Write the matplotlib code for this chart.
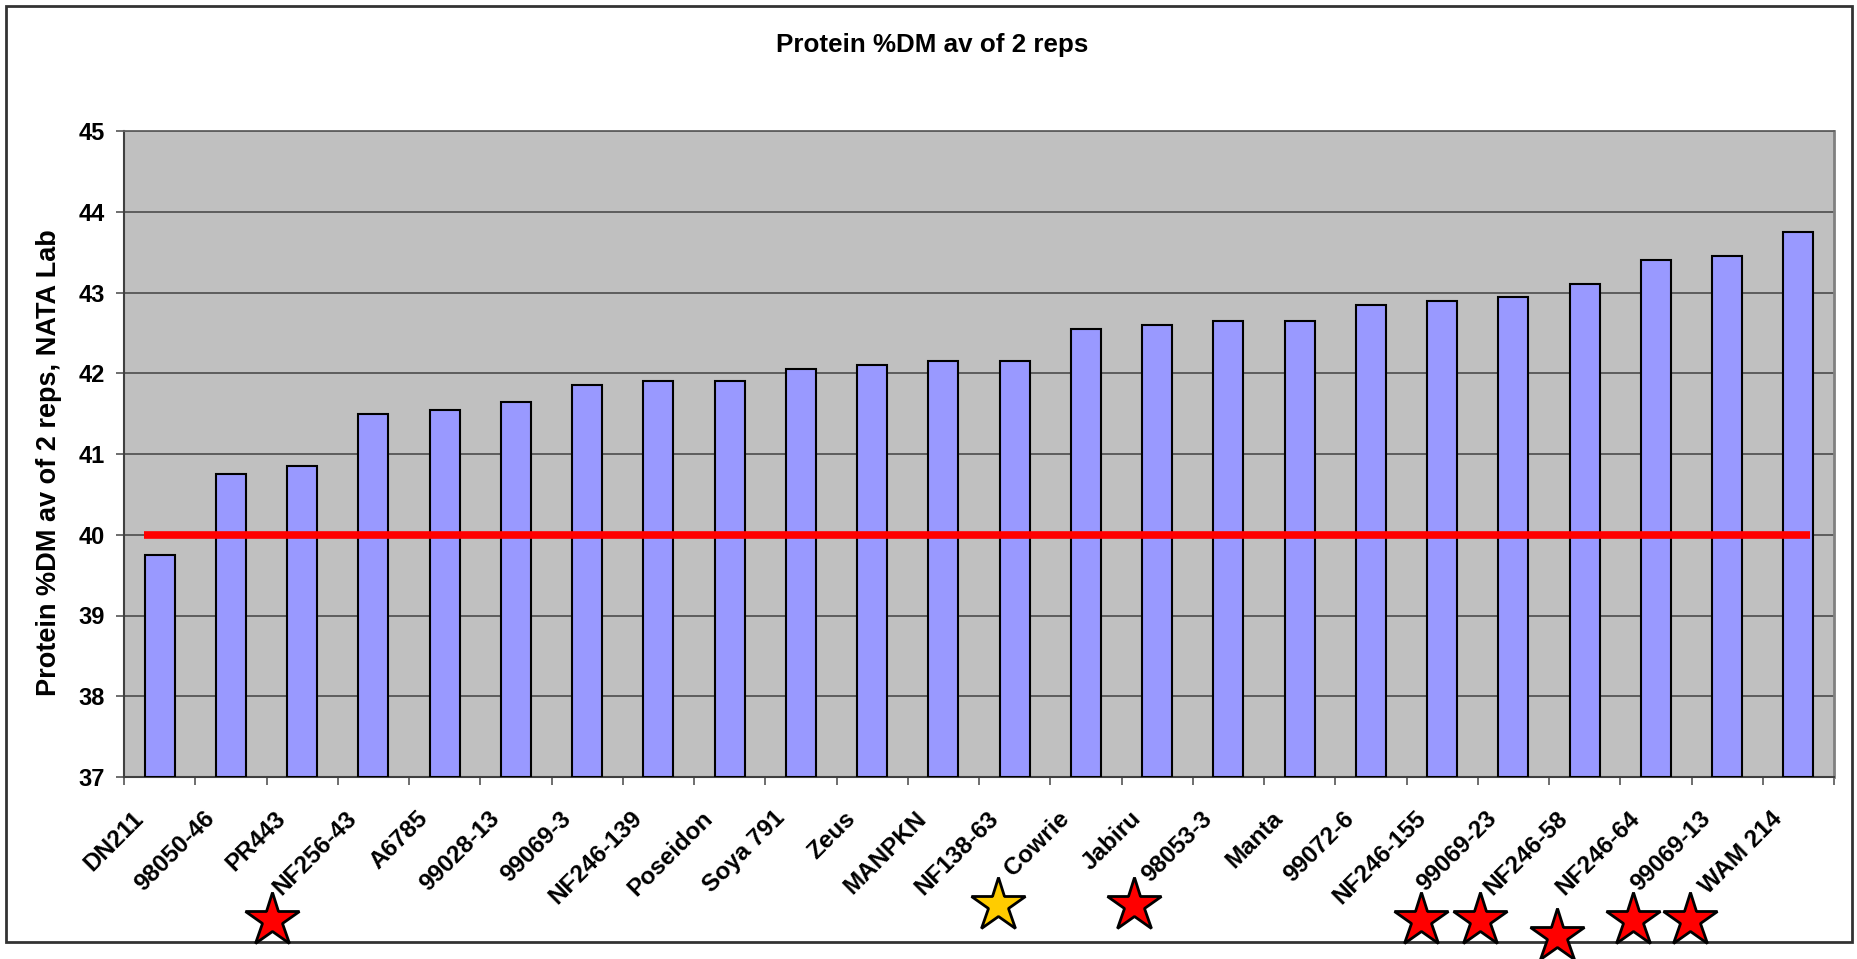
import matplotlib
matplotlib.use("Agg")
import matplotlib.pyplot as plt
from matplotlib.patches import Rectangle
from matplotlib.transforms import ScaledTranslation

plt.rcParams['font.family'] = ['Liberation Sans', 'DejaVu Sans']
plt.rcParams['font.weight'] = 'bold'

# ---- data ----
categories = ["DN211", "98050-46", "PR443", "NF256-43", "A6785", "99028-13",
              "99069-3", "NF246-139", "Poseidon", "Soya 791", "Zeus", "MANPKN",
              "NF138-63", "Cowrie", "Jabiru", "98053-3", "Manta", "99072-6",
              "NF246-155", "99069-23", "NF246-58", "NF246-64", "99069-13", "WAM 214"]
protein = [39.75, 40.75, 40.85, 41.5, 41.55, 41.65, 41.85, 41.9, 41.9, 42.05,
           42.1, 42.15, 42.15, 42.55, 42.6, 42.65, 42.65, 42.85, 42.9, 42.95,
           43.1, 43.4, 43.45, 43.75]
threshold = 40
yticks = [37, 38, 39, 40, 41, 42, 43, 44, 45]
title = "Protein %DM av of 2 reps"
ylabel = "Protein %DM av of 2 reps, NATA Lab"

# star annotations (figure pixel positions, colour)
stars = [(272, 920, "#FF0000"), (998, 905, "#FFCC00"), (1134, 905, "#FF0000"),
         (1421, 920, "#FF0000"), (1480, 920, "#FF0000"), (1557, 936, "#FF0000"),
         (1633, 920, "#FF0000"), (1690, 920, "#FF0000")]

W, H = 1857, 959
fig = plt.figure(figsize=(W / 100, H / 100), dpi=100)
ax = fig.add_axes([124 / W, 1 - 777 / H, (1834 - 124) / W, (777 - 131) / H])
ax.set_facecolor("#C0C0C0")

x = list(range(len(categories)))
ax.bar(x, [v - 37 for v in protein], bottom=37, width=0.42, color="#9999FF",
       edgecolor="black", linewidth=1.5, zorder=3)
ax.plot([-0.22, len(categories) - 0.83], [threshold, threshold], color="#FF0000",
        linewidth=5.5, solid_capstyle="butt", zorder=4)

ax.set_xlim(-0.5, len(categories) - 0.5)
ax.set_ylim(37, 45)
ax.set_yticks(yticks)
ax.set_yticklabels([str(t) for t in yticks], fontsize=17, fontweight='bold')
ax.yaxis.grid(True, color="#555555", linewidth=1.3, zorder=0)
ax.set_axisbelow(True)

ax.set_xticks(x)
ax.set_xticklabels(categories, rotation=45, ha='right', va='center',
                   rotation_mode='anchor', fontsize=17.5, fontweight='bold')
ax.set_xticks([i - 0.5 for i in range(len(categories) + 1)], minor=True)
ax.tick_params(axis='x', which='major', length=0, pad=28)
ax.tick_params(axis='x', which='minor', length=6, width=1.2, color="#555555")
ax.tick_params(axis='y', length=6, width=1.2, color="#555555", pad=8)
shift = ScaledTranslation(-20 / 100, 1 / 100, fig.dpi_scale_trans)
for lab in ax.get_xticklabels():
    lab.set_transform(lab.get_transform() + shift)

for s in ['left', 'bottom']:
    ax.spines[s].set_color("#404040")
    ax.spines[s].set_linewidth(1.5)
ax.spines['top'].set_color("#606060")
ax.spines['top'].set_linewidth(1.3)
ax.spines['right'].set_color("#808080")
ax.spines['right'].set_linewidth(2)

fig.text(932 / W, 1 - 45 / H, title, ha='center', va='center', fontsize=18.7,
         fontweight='bold')
fig.text(49 / W, 1 - 463 / H, ylabel, ha='center', va='center', rotation=90,
         fontsize=19.5, fontweight='bold')

# outer chart border
fig.patches.append(Rectangle((6 / W, 1 - 942 / H), (1852 - 6) / W, (942 - 6) / H,
                             transform=fig.transFigure, fill=False,
                             edgecolor="#333333", linewidth=2, zorder=0))

for px, py, c in stars:
    fig.add_artist(plt.Line2D([px / W], [1 - py / H], marker='*', markersize=41,
                              markerfacecolor=c, markeredgecolor='black',
                              markeredgewidth=2, linestyle='none',
                              transform=fig.transFigure, zorder=10))

fig.savefig("out.png", dpi=100)
